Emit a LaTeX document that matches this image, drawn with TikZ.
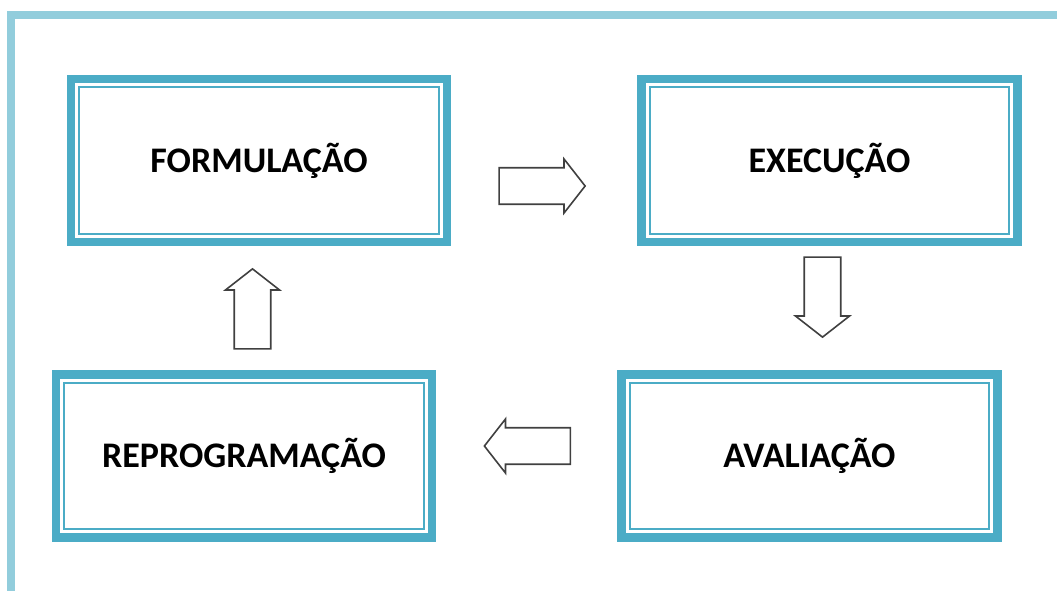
\documentclass[tikz,border=0pt]{standalone}
\usepackage{fontspec}
\setmainfont{Carlito}
\usetikzlibrary{positioning,shapes.arrows}
\definecolor{boxblue}{HTML}{4BACC6}
\definecolor{frameblue}{HTML}{92CDDC}
\definecolor{arrowgray}{HTML}{404040}

\begin{document}
\begin{tikzpicture}[x=1pt, y=-1pt,
		stage/.style={draw=boxblue, line width=8.5pt, minimum width=376pt, minimum height=163pt, inner sep=0pt, font=\fontsize{36}{42}\selectfont\bfseries},
		inline/.style={draw=boxblue, line width=2pt},
		blockarrow/.style={single arrow, draw=arrowgray, line width=1.6pt, fill=white, inner xsep=0pt, inner ysep=14pt, single arrow tip angle=104, minimum height=86pt, minimum width=54pt}]
		\useasboundingbox (0,0) rectangle (1057,590);
		\draw[frameblue, line width=8pt] (11,600) -- (11,15) -- (1070,15);

		\node[stage] (form) at (259,160.5) {FORMULAÇÃO};
		\node[stage, right=186pt of form] (exec) {EXECUÇÃO};
		\node[stage, below=124pt of exec, xshift=-20pt] (aval) {AVALIAÇÃO};
		\node[stage, left=181pt of aval] (repr) {REPROGRAMAÇÃO};

		\foreach \b in {form,exec,aval,repr}
			\draw[inline] ([shift={(12.5pt,-12.5pt)}]\b.north west) rectangle ([shift={(-12.5pt,12.5pt)}]\b.south east);

		\node[blockarrow] (next) at (535,186) {};
		\node[blockarrow, rotate=-90, minimum height=80pt] (down) at (822.5,290) {};
		\node[blockarrow, rotate=180] (back) at (534.5,446) {};
		\node[blockarrow, rotate=90, minimum height=80pt] (up) at (252.5,316) {};
	\end{tikzpicture}
\end{document}
